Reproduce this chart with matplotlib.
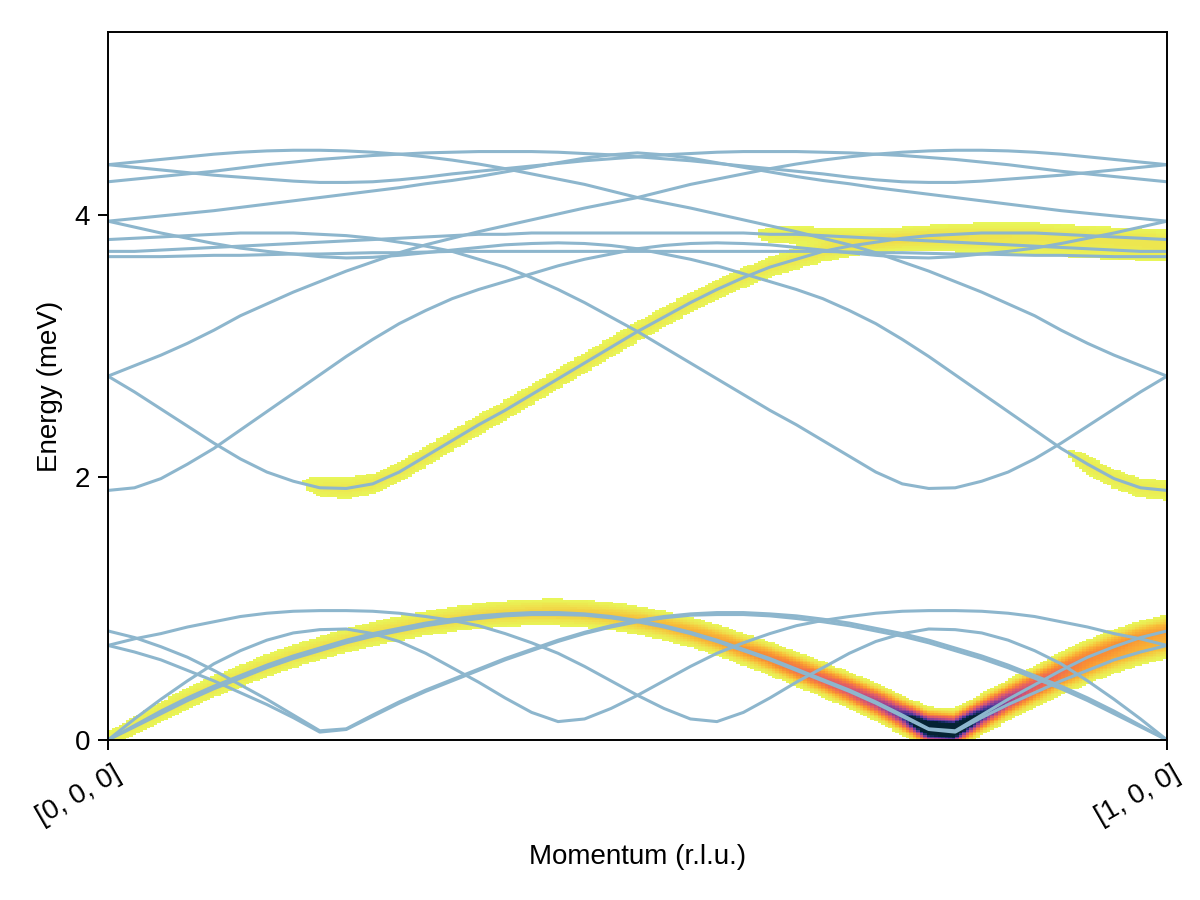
import numpy as np
import matplotlib.pyplot as plt
from matplotlib.colors import LinearSegmentedColormap
from matplotlib.transforms import ScaledTranslation

plt.rcParams['font.family'] = ['Liberation Sans', 'DejaVu Sans']

# sample positions along the path [0,0,0] -> [1,0,0]
momentum = np.linspace(0, 1, 41)
tick_labels = ["[0, 0, 0]", "[1, 0, 0]"]

# ---- lower group of bands (meV) ----
band_a = [0.00, 0.11, 0.22, 0.32, 0.41, 0.49, 0.57, 0.64, 0.70, 0.76, 0.81, 0.85, 0.89, 0.92,
          0.945, 0.96, 0.97, 0.97, 0.96, 0.94, 0.91, 0.87, 0.82, 0.76, 0.69, 0.62, 0.54, 0.46,
          0.38, 0.29, 0.19, 0.085, 0.07, 0.19, 0.31, 0.42, 0.53, 0.63, 0.71, 0.78, 0.83]
band_a_m = [0.83, 0.78, 0.71, 0.63, 0.53, 0.42, 0.31, 0.19, 0.07, 0.085, 0.19, 0.29, 0.38, 0.46,
            0.54, 0.62, 0.69, 0.76, 0.82, 0.87, 0.91, 0.94, 0.96, 0.97, 0.97, 0.96, 0.945, 0.92,
            0.89, 0.85, 0.81, 0.76, 0.70, 0.64, 0.57, 0.49, 0.41, 0.32, 0.22, 0.11, 0.00]
band_b = [0.00, 0.10, 0.20, 0.30, 0.39, 0.47, 0.55, 0.62, 0.68, 0.74, 0.79, 0.83, 0.87, 0.90,
          0.925, 0.945, 0.955, 0.955, 0.95, 0.93, 0.90, 0.86, 0.81, 0.75, 0.68, 0.61, 0.53, 0.45,
          0.37, 0.28, 0.18, 0.08, 0.06, 0.17, 0.27, 0.36, 0.45, 0.53, 0.61, 0.67, 0.72]
band_b_m = [0.72, 0.67, 0.61, 0.53, 0.45, 0.36, 0.27, 0.17, 0.06, 0.08, 0.18, 0.28, 0.37, 0.45,
            0.53, 0.61, 0.68, 0.75, 0.81, 0.86, 0.90, 0.93, 0.95, 0.955, 0.955, 0.945, 0.925, 0.90,
            0.87, 0.83, 0.79, 0.74, 0.68, 0.62, 0.55, 0.47, 0.39, 0.30, 0.20, 0.10, 0.00]
band_d = [0.00, 0.16, 0.31, 0.45, 0.58, 0.68, 0.76, 0.815, 0.84, 0.845, 0.81, 0.75, 0.66, 0.55,
          0.44, 0.32, 0.21, 0.14, 0.16, 0.24, 0.34, 0.45, 0.56, 0.66, 0.74, 0.81, 0.87, 0.91,
          0.94, 0.965, 0.98, 0.985, 0.985, 0.98, 0.965, 0.94, 0.90, 0.86, 0.81, 0.77, 0.72]
band_d_m = [0.72, 0.77, 0.81, 0.86, 0.90, 0.94, 0.965, 0.98, 0.985, 0.985, 0.98, 0.965, 0.94, 0.91,
            0.87, 0.81, 0.74, 0.66, 0.56, 0.45, 0.34, 0.24, 0.16, 0.14, 0.21, 0.32, 0.44, 0.55,
            0.66, 0.75, 0.81, 0.845, 0.84, 0.815, 0.76, 0.68, 0.58, 0.45, 0.31, 0.16, 0.00]

# ---- upper group of bands ----
band_u1 = [2.77, 2.65, 2.52, 2.39, 2.26, 2.14, 2.04, 1.97, 1.92, 1.915, 1.95, 2.04, 2.16, 2.28,
           2.40, 2.51, 2.63, 2.75, 2.87, 2.99, 3.11, 3.22, 3.33, 3.43, 3.52, 3.60, 3.66, 3.72,
           3.76, 3.79, 3.82, 3.84, 3.85, 3.86, 3.86, 3.86, 3.85, 3.84, 3.83, 3.82, 3.81]
band_u1_m = [3.81, 3.82, 3.83, 3.84, 3.85, 3.86, 3.86, 3.86, 3.85, 3.84, 3.82, 3.79, 3.76, 3.72,
             3.66, 3.60, 3.52, 3.43, 3.33, 3.22, 3.11, 2.99, 2.87, 2.75, 2.63, 2.51, 2.40, 2.28,
             2.16, 2.04, 1.95, 1.915, 1.92, 1.97, 2.04, 2.14, 2.26, 2.39, 2.52, 2.65, 2.77]
band_u2 = [1.90, 1.92, 1.99, 2.10, 2.22, 2.36, 2.50, 2.64, 2.78, 2.92, 3.05, 3.17, 3.27, 3.36,
           3.43, 3.49, 3.55, 3.61, 3.66, 3.70, 3.74, 3.765, 3.78, 3.785, 3.78, 3.77, 3.75, 3.73,
           3.71, 3.69, 3.675, 3.67, 3.68, 3.70, 3.72, 3.745, 3.78, 3.82, 3.86, 3.905, 3.95]
band_u2_m = [3.95, 3.905, 3.86, 3.82, 3.78, 3.745, 3.72, 3.70, 3.68, 3.67, 3.675, 3.69, 3.71, 3.73,
             3.75, 3.77, 3.78, 3.785, 3.78, 3.765, 3.74, 3.70, 3.66, 3.61, 3.55, 3.49, 3.43, 3.36,
             3.27, 3.17, 3.05, 2.92, 2.78, 2.64, 2.50, 2.36, 2.22, 2.10, 1.99, 1.92, 1.90]
band_v1 = [4.38, 4.40, 4.42, 4.44, 4.46, 4.475, 4.485, 4.49, 4.49, 4.485, 4.475, 4.46, 4.44, 4.415,
           4.385, 4.35, 4.31, 4.27, 4.23, 4.18, 4.13, 4.09, 4.05, 4.005, 3.96, 3.915, 3.87, 3.82,
           3.77, 3.71, 3.64, 3.57, 3.49, 3.41, 3.32, 3.23, 3.12, 3.02, 2.93, 2.85, 2.77]
band_v1_m = [2.77, 2.85, 2.93, 3.02, 3.12, 3.23, 3.32, 3.41, 3.49, 3.57, 3.64, 3.71, 3.77, 3.82,
             3.87, 3.915, 3.96, 4.005, 4.05, 4.09, 4.13, 4.18, 4.23, 4.27, 4.31, 4.35, 4.385, 4.415,
             4.44, 4.46, 4.475, 4.485, 4.49, 4.49, 4.485, 4.475, 4.46, 4.44, 4.42, 4.40, 4.38]
band_w = [3.95, 3.97, 3.99, 4.01, 4.03, 4.055, 4.08, 4.105, 4.13, 4.155, 4.18, 4.205, 4.235, 4.26,
          4.29, 4.325, 4.36, 4.395, 4.43, 4.455, 4.47, 4.455, 4.43, 4.395, 4.36, 4.325, 4.29, 4.26,
          4.235, 4.205, 4.18, 4.155, 4.13, 4.105, 4.08, 4.055, 4.03, 4.01, 3.99, 3.97, 3.95]
band_t2 = [4.38, 4.36, 4.34, 4.32, 4.30, 4.285, 4.27, 4.255, 4.245, 4.245, 4.25, 4.265, 4.285, 4.31,
           4.33, 4.35, 4.37, 4.39, 4.41, 4.425, 4.44, 4.455, 4.465, 4.475, 4.48, 4.48, 4.48, 4.475,
           4.47, 4.46, 4.45, 4.435, 4.42, 4.40, 4.38, 4.355, 4.33, 4.31, 4.29, 4.27, 4.25]
band_t2_m = [4.25, 4.27, 4.29, 4.31, 4.33, 4.355, 4.38, 4.40, 4.42, 4.435, 4.45, 4.46, 4.47, 4.475,
             4.48, 4.48, 4.48, 4.475, 4.465, 4.455, 4.44, 4.425, 4.41, 4.39, 4.37, 4.35, 4.33, 4.31,
             4.285, 4.265, 4.25, 4.245, 4.245, 4.255, 4.27, 4.285, 4.30, 4.32, 4.34, 4.36, 4.38]
band_t5 = [3.72, 3.72, 3.73, 3.74, 3.75, 3.76, 3.77, 3.78, 3.79, 3.80, 3.81, 3.82, 3.83, 3.84,
           3.85, 3.85, 3.86, 3.86, 3.86, 3.86, 3.86, 3.86, 3.86, 3.86, 3.86, 3.85, 3.85, 3.84,
           3.83, 3.82, 3.81, 3.80, 3.79, 3.78, 3.77, 3.76, 3.75, 3.74, 3.73, 3.72, 3.72]
band_t6 = [3.68, 3.68, 3.68, 3.685, 3.69, 3.69, 3.695, 3.70, 3.70, 3.705, 3.71, 3.71, 3.715, 3.72,
           3.72, 3.72, 3.72, 3.72, 3.72, 3.72, 3.72, 3.72, 3.72, 3.72, 3.72, 3.72, 3.72, 3.72,
           3.715, 3.71, 3.71, 3.705, 3.70, 3.70, 3.695, 3.69, 3.69, 3.685, 3.68, 3.68, 3.68]

# ---- spectral weight carried by the highlighted bands (arb. units, threshold = 1) ----
weight_a = [2.0, 2.3, 2.6, 2.8, 3.0, 3.2, 3.4, 3.6, 3.7, 3.9, 4.0, 4.2, 4.4, 4.6,
            4.8, 5.1, 5.5, 6.0, 6.5, 7.2, 8.0, 9.0, 10.5, 12, 13, 17, 22, 27,
            34, 45, 66, 150, 150, 90, 55, 38, 30, 25, 22, 20, 18]
weight_b = [0.5, 0.6, 0.7, 0.8, 0.9, 1.0, 1.1, 1.2, 1.3, 1.3, 1.4, 1.5, 1.5, 1.6,
            1.7, 1.8, 2.0, 2.1, 2.3, 2.5, 3.0, 3.5, 4.5, 5.5, 9.0, 11, 14, 18,
            23, 30, 44, 100, 100, 60, 35, 24, 18, 15, 13, 12, 11]
weight_u1 = [0, 0, 0, 0, 0, 0, 0, 0, 3.0, 3.5, 3.5, 3.5, 3.5, 3.5,
             3.5, 3.5, 3.5, 3.5, 3.5, 3.5, 3.5, 3.5, 3.5, 3.5, 3.5, 3.5, 3.5, 3.5,
             3.5, 3.5, 3.5, 3.5, 3.5, 3.5, 3.5, 3.5, 3.5, 3.5, 3.5, 3.5, 3.5]
weight_u2_m = [0, 0, 0, 0, 0, 0, 0, 0, 0, 0, 0, 0, 0, 0,
               0, 0, 0, 0, 0, 0, 0, 0, 0, 0, 0, 0, 0, 0,
               0, 0, 0, 0, 0, 0, 0, 0, 0, 3.0, 3.0, 3.0, 3.0]
weight_t5 = [0, 0, 0, 0, 0, 0, 0, 0, 0, 0, 0, 0, 0, 0,
             0, 0, 0, 0, 0, 0, 0, 0, 0, 0, 0, 2.0, 2.5, 2.5,
             2.5, 2.5, 2.5, 2.5, 2.5, 2.5, 2.5, 2.5, 2.5, 2.5, 2.5, 2.5, 2.5]

bands = [band_a, band_a_m, band_b, band_b_m, band_d, band_d_m,
         band_u1, band_u1_m, band_u2, band_u2_m, band_v1, band_v1_m, band_w,
         band_t2, band_t2_m, band_t5, band_t6]
weighted = [(band_a, weight_a), (band_b, weight_b), (band_u1, weight_u1),
            (band_u2_m, weight_u2_m), (band_t5, weight_t5)]

e_top = 5.39
broadening = 0.05

# reversed "thermal" style colormap: low intensity yellow, high intensity dark navy
thermal = LinearSegmentedColormap.from_list("thermal", [
    (0.00, "#042333"), (0.12, "#182f6a"), (0.25, "#45369a"), (0.38, "#7a3f9b"),
    (0.50, "#a9478d"), (0.62, "#d45674"), (0.74, "#f06b53"), (0.85, "#fa9233"),
    (0.93, "#f8c03a"), (1.00, "#e8fa5b")])
cmap = thermal.reversed()

# broadened intensity map built from the bands above
q_cols = np.linspace(0, 1, 300)
e_rows = np.linspace(0, e_top, 420)
intensity = np.zeros((len(e_rows), len(q_cols)))
for band, weight in weighted:
    e_b = np.interp(q_cols, momentum, band)
    w_b = np.interp(q_cols, momentum, weight)
    intensity += w_b * np.exp(-(e_rows[:, None] - e_b) ** 2 / (2 * broadening ** 2))
intensity = np.ma.masked_less(intensity, 1.0)

fig = plt.figure(figsize=(12, 9), dpi=100)
ax = fig.add_axes([0.09, 0.1778, 0.8825, 0.7866])

ax.imshow(intensity, extent=[0, 1, 0, e_top], origin='lower', aspect='auto',
          cmap=cmap, vmin=0, vmax=150, interpolation='nearest', zorder=1)

for band in bands:
    ax.plot(momentum, band, color='#8db6cd', linewidth=2.2, zorder=2)

ax.set_xlim(0, 1)
ax.set_ylim(0, e_top)
ax.set_yticks([0, 2, 4])
ax.set_xticks([0, 1])
ax.set_xticklabels(tick_labels, rotation=30, ha='right', va='center', rotation_mode='anchor')
ax.tick_params(direction='out', length=7, width=1.4, labelsize=20, pad=6)
ax.tick_params(axis='x', pad=14)
shift = ScaledTranslation(0.11, -0.03, fig.dpi_scale_trans)
for lab in ax.get_xticklabels():
    lab.set_transform(lab.get_transform() + shift)
for s in ax.spines.values():
    s.set_linewidth(1.4)

ax.set_xlabel("Momentum (r.l.u.)", fontsize=20, labelpad=10)
ax.set_ylabel("Energy (meV)", fontsize=20, labelpad=8)

fig.savefig("out.png", dpi=100)
